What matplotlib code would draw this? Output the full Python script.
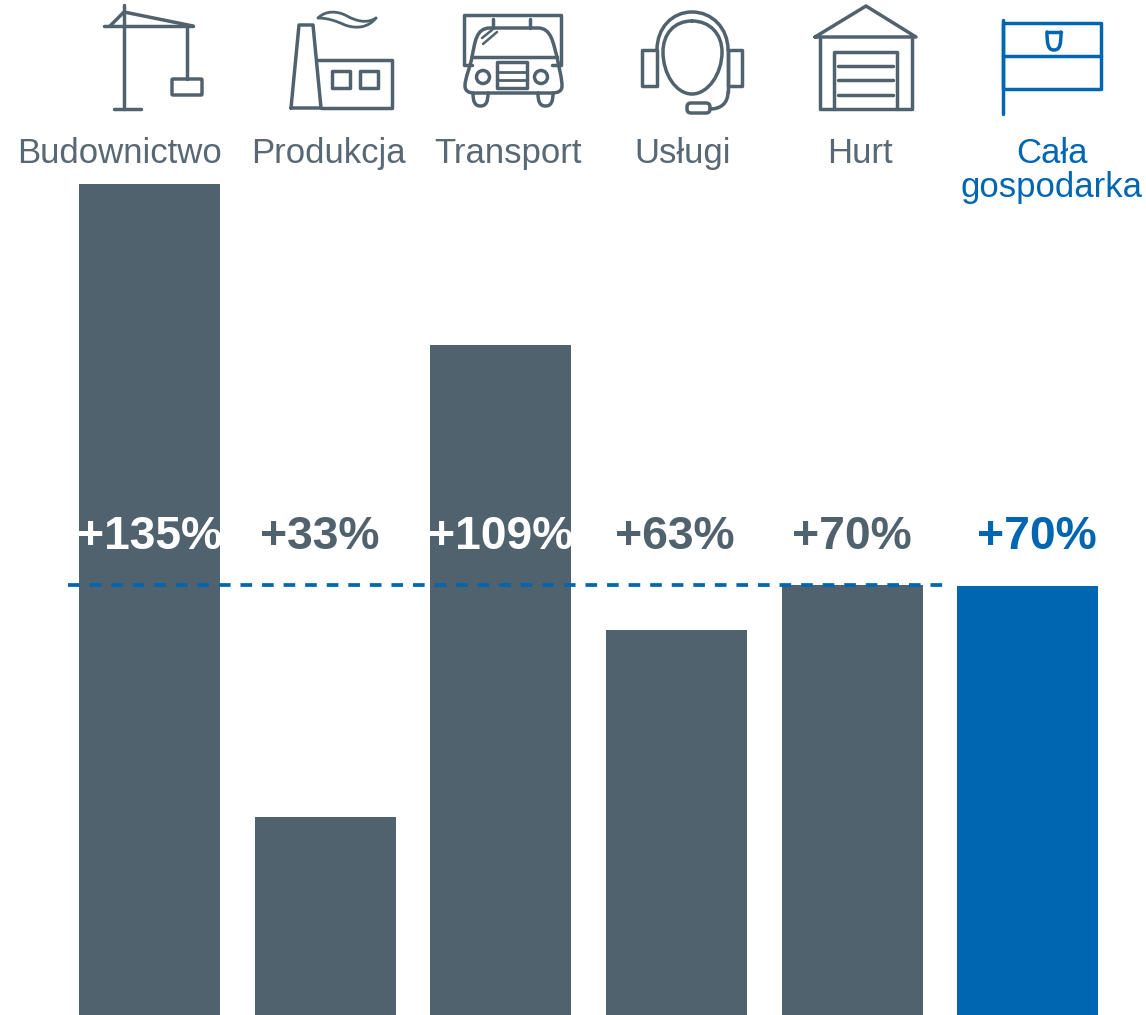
import matplotlib
matplotlib.use("Agg")
import matplotlib.pyplot as plt
from matplotlib.patches import Circle, Rectangle, FancyBboxPatch, PathPatch
from matplotlib.path import Path

plt.rcParams['font.family'] = ['Liberation Sans', 'DejaVu Sans']

categories = ["Budownictwo", "Produkcja", "Transport", "Usługi", "Hurt", "Cała\ngospodarka"]
values = [135, 32.4, 108.85, 62.8, 70, 69.85]
value_labels = ["+135%", "+33%", "+109%", "+63%", "+70%", "+70%"]
average = 70

GRAY = "#51626f"
BLUE = "#0066b1"
W, H = 1146, 1015
PX_PER_PCT = 6.17
STEP = 175.6
X0 = 149.7

fig = plt.figure(figsize=(W / 100, H / 100), dpi=100, facecolor="white")
ax = fig.add_axes([0, 0, 1, 1])
ax.set_xlim(-X0 / STEP, (W - X0) / STEP)
ax.set_ylim(2 / PX_PER_PCT, 1017 / PX_PER_PCT)
ax.axis("off")

colors = [GRAY] * 5 + [BLUE]
xs = list(range(len(categories)))
ax.bar(xs, values, width=141 / STEP, color=colors, zorder=2)

# dashed average line stops before the last bar
ax.plot([-0.465, 4.55], [average, average], color=BLUE, lw=2.7,
        dashes=(3.1, 2.65), zorder=3)

label_colors = ["white", GRAY, "white", GRAY, GRAY, BLUE]
label_x = [0, -0.03, 0, -0.01, 0, 0.05]
for x, dx, lab, c in zip(xs, label_x, value_labels, label_colors):
    ax.text(x + dx, 77.87, lab, color=c, fontsize=33.3, fontweight="bold",
            ha="center", va="center", zorder=4)

cat_px = [119, 328, 508, 683, 860, 1052]
for i, (cx, cat) in enumerate(zip(cat_px, categories)):
    ax.text((cx - X0) / STEP, (1017 - 137) / PX_PER_PCT, cat,
            color="#586874" if i < 5 else BLUE, fontsize=25,
            ha="center", va="top", linespacing=1.05, zorder=4)

# icons, drawn in pixel coordinates on an overlay
ic = fig.add_axes([0, 0, 1, 1])
ic.set_xlim(0, W)
ic.set_ylim(H, 0)
ic.axis("off")
ic.patch.set_alpha(0)


def ln(xx, yy, c=GRAY, lw=2.5):
    ic.plot(xx, yy, color=c, lw=lw, solid_capstyle="round", solid_joinstyle="round")


def rect(x, y, w, h, c=GRAY, lw=2.5):
    ic.add_patch(Rectangle((x, y), w, h, fill=False, ec=c, lw=lw, joinstyle="round"))


def bez(start, segs, c=GRAY, lw=2.5):
    # segs are (ctrl1, ctrl2, end) cubic pieces
    verts, codes = [start], [Path.MOVETO]
    for s in segs:
        verts += list(s)
        codes += [Path.CURVE4] * 3
    ic.add_patch(PathPatch(Path(verts, codes), fill=False, ec=c, lw=lw,
                           capstyle="round", joinstyle="round"))


# crane
ln([124, 124], [5, 109])
ln([114, 141], [109, 109])
ln([104, 193], [26, 26])
ln([110, 124, 193], [26, 12, 26])
ln([187, 187], [26, 79])
ic.add_patch(FancyBboxPatch((172, 79), 30, 16, boxstyle="round,pad=0,rounding_size=1",
                            fill=False, ec=GRAY, lw=2.5))

# factory
ln([291, 299, 313, 321, 291], [108, 25, 25, 108, 108])
ln([318, 392, 392, 321], [60, 60, 108, 108])
rect(332, 71, 18, 17)
rect(360, 71, 18, 17)
bez((318, 18), [((326, 10), (338, 11), (347, 16)), ((356, 21), (367, 24), (376, 18))], lw=2.0)
bez((318, 18), [((328, 18), (336, 21), (345, 25)), ((356, 29), (368, 28), (376, 18))], lw=2.0)

# truck
ln([472, 464, 464, 561, 561, 552], [65, 65, 15, 15, 65, 65])
ln([493, 493], [19, 28])
ln([530, 530], [19, 28])
bez((472, 57), [((475, 42), (476, 28), (490, 28)), ((505, 28), (523, 28), (538, 28)),
                ((551, 28), (553, 42), (557, 57))])
ln([472, 557], [57, 57])
bez((472, 57), [((470, 68), (465, 78), (465, 86)), ((465, 91), (469, 93), (474, 93)),
                ((500, 93), (525, 93), (552, 93)), ((558, 93), (562, 91), (562, 86)),
                ((562, 78), (559, 68), (557, 57))])
ln([482, 492], [38, 30], lw=1.8)
ln([483, 497], [44, 32], lw=1.8)
rect(497, 62, 30, 26)
ln([497, 527], [72, 72], lw=2)
ln([497, 527], [80, 80], lw=2)
ic.add_patch(Circle((483, 77), 6.5, fill=False, ec=GRAY, lw=2.5))
ic.add_patch(Circle((541, 77), 6.5, fill=False, ec=GRAY, lw=2.5))
bez((473, 93), [((473, 102), (475, 106), (480.5, 106)), ((486, 106), (488, 102), (488, 93))])
bez((538, 93), [((538, 102), (540, 106), (545.5, 106)), ((551, 106), (553, 102), (553, 93))])

# headset
bez((692, 21), [((710, 21), (722, 34), (722, 52)), ((722, 74), (708, 94), (692, 94)),
                ((676, 94), (663, 74), (663, 52)), ((663, 34), (674, 21), (692, 21))])
bez((657, 50), [((657, 28), (672, 12), (692, 12)), ((712, 12), (728, 28), (728, 50))])
ln([728, 728], [50, 92])
bez((728, 92), [((728, 103), (721, 109), (710, 109))])
rect(642, 50, 15, 36)
rect(728, 50, 14, 36)
ic.add_patch(FancyBboxPatch((687, 103), 23, 10, boxstyle="round,pad=0,rounding_size=4",
                            fill=False, ec=GRAY, lw=2.5))

# warehouse
ln([815, 866, 916, 815], [37, 6, 37, 37])
ln([820, 820, 912, 912], [37, 109, 109, 37])
ln([834, 834, 897, 897], [109, 52, 52, 109])
ln([838, 893], [66, 66])
ln([838, 893], [80, 80])
ln([838, 893], [95, 95])

# flag
ln([1003, 1003], [20, 114], c=BLUE)
rect(1003, 23, 98, 66, c=BLUE)
ln([1003, 1101], [56, 56], c=BLUE)
bez((1047, 32), [((1047, 44), (1048, 50), (1054, 50)), ((1060, 50), (1061, 44), (1061, 32))], c=BLUE)
ln([1047, 1061], [32, 32], c=BLUE)

fig.savefig("out.png", dpi=100)
